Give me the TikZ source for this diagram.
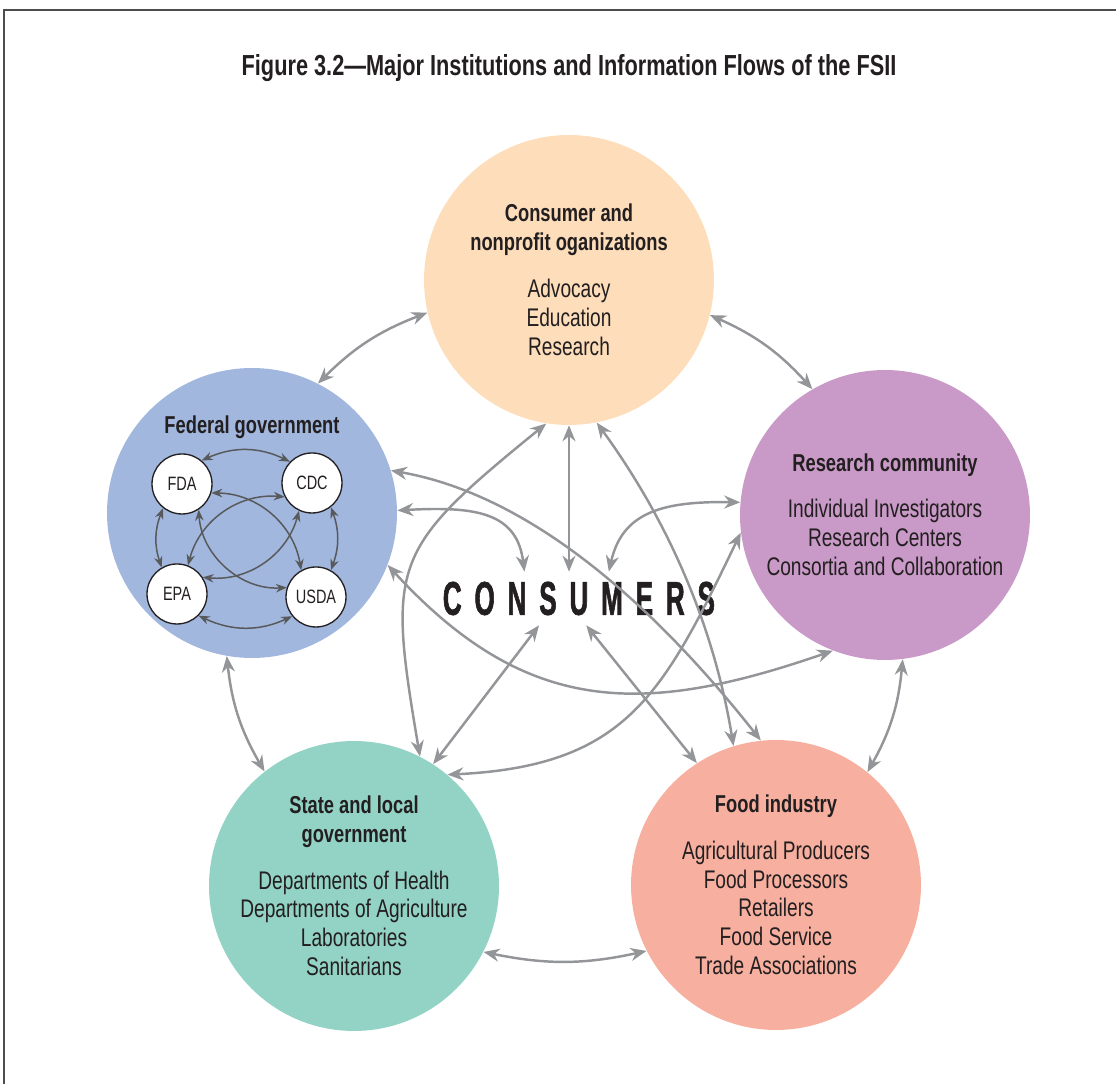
\documentclass[tikz,border=0pt]{standalone}
\usepackage{fontspec}
\setmainfont{Liberation Sans}[FakeStretch=0.75]
\newfontfamily\widefont{Liberation Sans Bold}[FakeStretch=0.55, LetterSpace=27, FakeBold=1.2]
\usetikzlibrary{arrows.meta, positioning}

\definecolor{ink}{HTML}{231F20}
\definecolor{flowgray}{HTML}{939598}
\definecolor{linkgray}{HTML}{58595B}
\definecolor{consfill}{HTML}{FDDDBA}
\definecolor{fedfill}{HTML}{A1B7DE}
\definecolor{resfill}{HTML}{C99AC7}
\definecolor{statefill}{HTML}{93D3C5}
\definecolor{foodfill}{HTML}{F7B0A0}

\newcommand{\hd}[1]{{\fontsize{13.9}{16.5}\selectfont\bfseries #1}}

\tikzset{
    org/.style={
        circle,
        fill=#1,
        minimum size=5.8cm,
        inner sep=0pt,
    },
    orgtext/.style={
        align=center,
        text=ink,
        font=\fontsize{14.5}{16.5}\selectfont,
    },
    agency/.style={
        circle,
        draw=ink,
        fill=white,
        line width=0.75pt,
        minimum size=1.2cm,
        inner sep=0pt,
        text=ink,
        font=\fontsize{11}{12}\selectfont,
    },
    flow/.style={
        draw=flowgray,
        line width=1.4pt,
        {Stealth[length=0.32cm,width=0.26cm]}-{Stealth[length=0.32cm,width=0.26cm]},
    },
    link/.style={
        draw=linkgray,
        line width=0.85pt,
        {Stealth[length=0.22cm,width=0.17cm]}-{Stealth[length=0.22cm,width=0.17cm]},
    },
}

\begin{document}
\begin{tikzpicture}[x=0.02cm, y=0.02cm]
    \useasboundingbox (0,0) rectangle (1116,1084);
    \draw[ink!80, line width=0.6pt] (4,0) -- (4,1074) -- (1116,1074);

    \node[text=ink, font=\fontsize{16.5}{20}\selectfont\bfseries] (title) at (569,1016)
        {Figure 3.2—Major Institutions and Information Flows of the FSII};

    % the five circles
    \node[org=consfill] (cons) at (569,804) {};
    \node[org=fedfill] (fed) at (252,571) {};
    \node[org=resfill] (res) at (885,569) {};
    \node[org=statefill] (state) at (354,198) {};
    \node[org=foodfill] (food) at (776,199) {};

    \node[orgtext] (constxt) at (cons) {\hd{Consumer and}\\ \hd{nonprofit oganizations}\\[10pt]
        Advocacy\\ Education\\ Research};
    \node[orgtext] (restxt) at (res) {\hd{Research community}\\[10pt]
        Individual Investigators\\ Research Centers\\ Consortia and Collaboration};
    \node[orgtext] (statetxt) at (state) {\hd{State and local}\\ \hd{government}\\[10pt]
        Departments of Health\\ Departments of Agriculture\\ Laboratories\\ Sanitarians};
    \node[orgtext] (foodtxt) at (food) {\hd{Food industry}\\[10pt]
        Agricultural Producers\\ Food Processors\\ Retailers\\ Food Service\\ Trade Associations};
    \node[orgtext] (fedtxt) at (252,657) {\hd{Federal government}};

    % federal agencies
    \node[agency] (fda) at (182,600) {FDA};
    \node[agency] (cdc) at (312,601) {CDC};
    \node[agency] (epa) at (177,490) {EPA};
    \node[agency] (usda) at (316,487) {USDA};

    \draw[link] (fda.50) to[bend left=25] (cdc.136);
    \draw[link] (fda.232) to[bend right=20] (epa.120);
    \draw[link] (cdc.308) to[bend left=20] (usda.61);
    \draw[link] (epa.315) to[bend right=25] (usda.219);
    \draw[link] (fda.343) to[bend left=40] (usda.119);
    \draw[link] (fda.303) to[bend right=45] (usda.162);
    \draw[link] (cdc.207) to[bend right=40] (epa.69);
    \draw[link] (cdc.245) to[bend left=40] (epa.33);

    % consumers in the middle
    \node[minimum width=5.68cm, minimum height=1.06cm, inner sep=0pt, text=ink,
          font=\widefont\fontsize{27}{30}\selectfont] (mid) at (582,485.5) {CONSUMERS\hspace*{0.13em}};

    % outer ring
    \draw[flow] (cons.193) to[bend right=12] (fed.63);
    \draw[flow] (fed.260) to[bend right=12] (state.128);
    \draw[flow] (state.-27) to[bend right=12] (food.207);
    \draw[flow] (food.51) to[bend right=12] (res.-83);
    \draw[flow] (res.120) to[bend right=12] (cons.-14);

    % flows to consumers
    \draw[flow] (cons.south) -- (cons.south |- mid.north);
    \draw[flow] (fed.1) .. controls (477,578) and (517,571) .. (mid.155);
    \draw[flow] (res.175) .. controls (661,583) and (622,571) .. (mid.45);
    \draw[flow] (state.57) -- (mid.212);
    \draw[flow] (food.123) -- (mid.279);

    % long flows across
    \draw[flow] (cons.261) .. controls (391,534) and (387,522) .. (state.63);
    \draw[flow] (cons.281) .. controls (669,562) and (714,457) .. (food.107);
    \draw[flow] (fed.17) .. controls (542,587) and (668,461) .. (food.96);
    \draw[flow] (fed.-21) .. controls (527,367) and (644,368) .. (res.249);
    \draw[flow] (res.187) .. controls (663,390) and (627,318) .. (state.50);
\end{tikzpicture}
\end{document}
